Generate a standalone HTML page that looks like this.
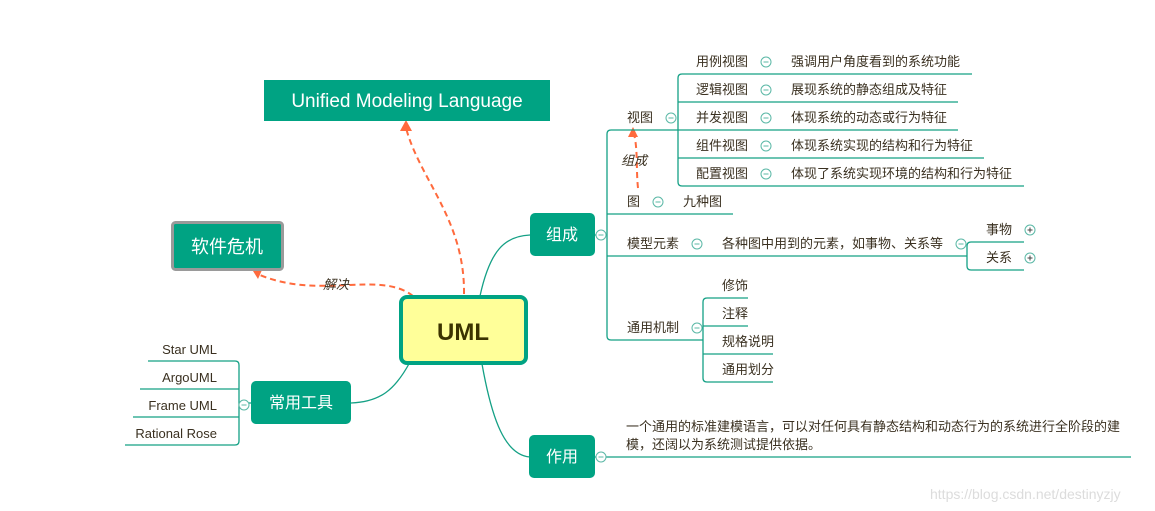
<!DOCTYPE html>
<html><head><meta charset="utf-8"><style>
html,body{margin:0;padding:0;background:#fff;}
svg{display:block;font-family:"Liberation Sans","Noto Sans CJK SC",sans-serif;}
.t{font-size:13px;fill:#3a3020;}
.l{stroke:#14a085;stroke-width:1.3;fill:none;}
.c{stroke:#5bb8a6;stroke-width:1;fill:#fff;}
.d{stroke:#ff6a3d;stroke-width:2;fill:none;stroke-dasharray:6 4;}
</style></head><body>
<svg width="1155" height="511" viewBox="0 0 1155 511">
<defs>
<g id="m"><circle r="5" class="c"/><line x1="-2.5" x2="2.5" y1="0" y2="0" stroke="#5bb8a6"/></g>
<g id="p"><circle r="5" class="c"/><line x1="-2.5" x2="2.5" stroke="#444"/><line y1="-2.5" y2="2.5" stroke="#444"/></g>
</defs>
<!-- main curves -->
<path class="l" d="M480 296 C490 250 505 236 530 235" stroke-width="1.8"/>
<path class="l" d="M482 364 C492 420 505 455 530 457" stroke-width="1.8"/>
<path class="l" d="M410 362 C395 390 380 402 351 403" stroke-width="1.8"/>
<!-- dashed arrows -->
<path class="d" d="M464 294 C465 220 420 180 406 128"/>
<polygon points="406,120 400,131 412,131" fill="#ff6a3d"/>
<path class="d" d="M413 296 C380 270 320 300 260 275"/>
<polygon points="253,271 262,270 258,279" fill="#ff6a3d"/>
<path class="d" d="M638 188 C636 170 638 150 634 134"/>
<polygon points="633,127 628,137 638,137" fill="#ff6a3d"/>
<text x="621" y="165" class="t" font-style="italic" font-size="14">组成</text>
<text x="323" y="289" class="t" font-style="italic" font-size="14">解决</text>
<!-- boxes -->
<rect x="264" y="80" width="286" height="41" fill="#00a383"/>
<text x="407" y="107" fill="#fff" font-size="19" text-anchor="middle">Unified Modeling Language</text>
<rect x="172.5" y="222.5" width="110" height="47" rx="3" fill="#00a383" stroke="#9a9a9a" stroke-width="3"/>
<text x="227" y="253" fill="#fff" font-size="18" text-anchor="middle">软件危机</text>
<rect x="401" y="297" width="125" height="66" rx="6" fill="#ffff99" stroke="#00a383" stroke-width="4"/>
<text x="463" y="340" fill="#3b3300" font-size="24" font-weight="bold" text-anchor="middle">UML</text>
<rect x="530" y="213" width="65" height="43" rx="5" fill="#00a383"/>
<text x="562" y="240" fill="#fff" font-size="16" text-anchor="middle">组成</text>
<rect x="251" y="381" width="100" height="43" rx="5" fill="#00a383"/>
<text x="301" y="408" fill="#fff" font-size="16" text-anchor="middle">常用工具</text>
<rect x="529" y="435" width="66" height="43" rx="5" fill="#00a383"/>
<text x="562" y="462" fill="#fff" font-size="16" text-anchor="middle">作用</text>
<!-- 组成 tree -->
<path class="l" d="M595 235 H601 M607 134 Q607 130 611 130 H678 M607 134 V336 Q607 340 611 340 H703 M607 214 H733 M607 256 H967"/>
<use href="#m" x="601" y="235"/>
<path class="l" d="M678 78 Q678 74 682 74 H972 M678 78 V182 Q678 186 682 186 H1024 M678 102 H958 M678 130 H958 M678 158 H984"/>
<text x="627" y="122" class="t">视图</text><use href="#m" x="671" y="118"/>
<text x="696" y="66" class="t">用例视图</text><use href="#m" x="766" y="62"/><text x="791" y="66" class="t">强调用户角度看到的系统功能</text>
<text x="696" y="94" class="t">逻辑视图</text><use href="#m" x="766" y="90"/><text x="791" y="94" class="t">展现系统的静态组成及特征</text>
<text x="696" y="122" class="t">并发视图</text><use href="#m" x="766" y="118"/><text x="791" y="122" class="t">体现系统的动态或行为特征</text>
<text x="696" y="150" class="t">组件视图</text><use href="#m" x="766" y="146"/><text x="791" y="150" class="t">体现系统实现的结构和行为特征</text>
<text x="696" y="178" class="t">配置视图</text><use href="#m" x="766" y="174"/><text x="791" y="178" class="t">体现了系统实现环境的结构和行为特征</text>
<text x="627" y="206" class="t">图</text><use href="#m" x="658" y="202"/><text x="683" y="206" class="t">九种图</text>
<text x="627" y="248" class="t">模型元素</text><use href="#m" x="697" y="244"/><text x="722" y="248" class="t">各种图中用到的元素，如事物、关系等</text>
<use href="#m" x="961" y="244"/>
<path class="l" d="M967 246 Q967 242 971 242 H1024 M967 246 V266 Q967 270 971 270 H1024"/>
<text x="986" y="234" class="t">事物</text><use href="#p" x="1030" y="230"/>
<text x="986" y="262" class="t">关系</text><use href="#p" x="1030" y="258"/>
<text x="627" y="332" class="t">通用机制</text><use href="#m" x="697" y="328"/>
<path class="l" d="M703 302 Q703 298 707 298 H748 M703 302 V378 Q703 382 707 382 H773 M703 326 H748 M703 354 H773"/>
<text x="722" y="290" class="t">修饰</text>
<text x="722" y="318" class="t">注释</text>
<text x="722" y="346" class="t">规格说明</text>
<text x="722" y="374" class="t">通用划分</text>
<!-- 作用 -->
<path class="l" d="M595 457 H1131"/><use href="#m" x="601" y="457"/>
<text x="626" y="431" class="t">一个通用的标准建模语言，可以对任何具有静态结构和动态行为的系统进行全阶段的建</text>
<text x="626" y="449" class="t">模，还阔以为系统测试提供依据。</text>
<!-- tools -->
<path class="l" d="M251 403 H243 M148 361 H235 Q239 361 239 365 V441 Q239 445 235 445 H125 M140 389 H239 M133 417 H239"/>
<use href="#m" x="244" y="405"/>
<text x="217" y="354" class="t" text-anchor="end">Star UML</text>
<text x="217" y="382" class="t" text-anchor="end">ArgoUML</text>
<text x="217" y="410" class="t" text-anchor="end">Frame UML</text>
<text x="217" y="438" class="t" text-anchor="end">Rational Rose</text>
<text x="930" y="499" font-size="14" fill="#dcdcdc">https://blog.csdn.net/destinyzjy</text>
</svg>
</body></html>
